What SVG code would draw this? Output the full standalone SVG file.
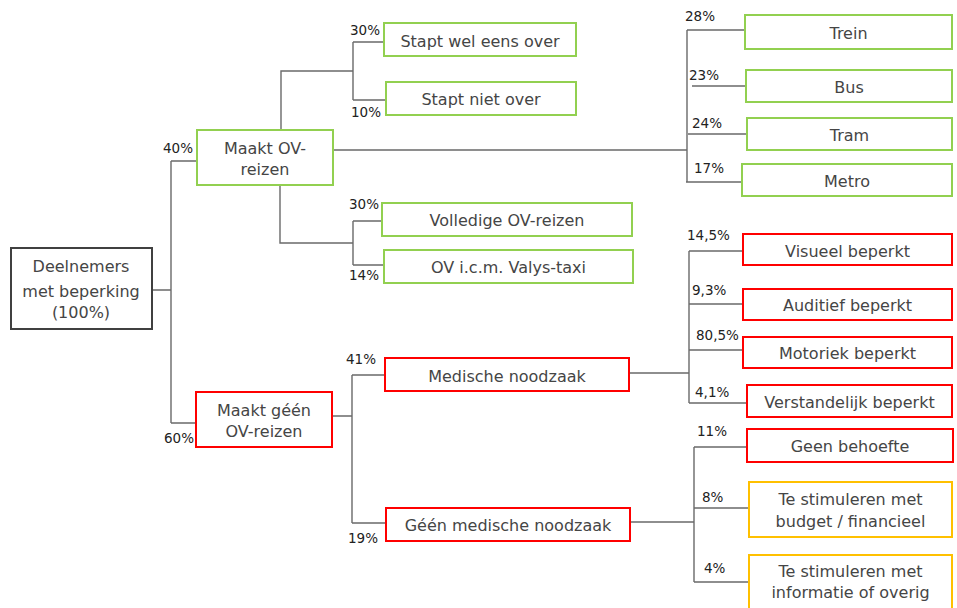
<svg xmlns="http://www.w3.org/2000/svg" width="957" height="608" viewBox="0 0 957 608">
<style>
  .box { fill: #ffffff; stroke-width: 2; }
  .g { stroke: #92d050; }
  .r { stroke: #ff0000; }
  .o { stroke: #ffc000; }
  .k { stroke: #404040; }
  .t { font-family: "DejaVu Sans", "Liberation Sans", sans-serif; font-size: 16px; fill: #454545; text-anchor: middle; }
  .p { font-family: "DejaVu Sans", "Liberation Sans", sans-serif; font-size: 13.5px; fill: #222222; }
  .c { fill: none; stroke: #6a6a6a; stroke-width: 1.4; }
</style>
<rect width="957" height="608" fill="#ffffff"/>

<g id="connectors">
  <path class="c" d="M152 290 H171 M171 161 V423 M171 161 H197 M171 423 H196"/>
  <path class="c" d="M281 130 V71 H353 M353 42 V100 M353 42 H385 M353 100 H386"/>
  <path class="c" d="M333 150 H687 M687 30 V182 M687 30 H745 M692 86 H746 M688 134 H747 M686 182 H742"/>
  <path class="c" d="M280 185 V243 H353 M353 221 V265 M353 221 H382 M353 265 H384"/>
  <path class="c" d="M332 416 H352 M352 375 V523 M352 375 H385 M352 523 H386"/>
  <path class="c" d="M629 373 H689 M689 251 V403 M689 251 H743 M689 304 H743 M689 350 H743 M689 403 H747"/>
  <path class="c" d="M630 522 H694 M694 447 V582 M694 447 H747 M694 508 H749 M694 582 H749"/>
</g>

<g id="labels">
  <text class="p" x="163" y="153">40%</text>
  <text class="p" x="164" y="443">60%</text>
  <text class="p" x="350" y="35">30%</text>
  <text class="p" x="351" y="117">10%</text>
  <text class="p" x="349" y="209">30%</text>
  <text class="p" x="349" y="280">14%</text>
  <text class="p" x="685" y="21">28%</text>
  <text class="p" x="689" y="80">23%</text>
  <text class="p" x="692" y="128">24%</text>
  <text class="p" x="694" y="173">17%</text>
  <text class="p" x="687" y="240">14,5%</text>
  <text class="p" x="692" y="295">9,3%</text>
  <text class="p" x="696" y="340">80,5%</text>
  <text class="p" x="695" y="397">4,1%</text>
  <text class="p" x="697" y="436">11%</text>
  <text class="p" x="702" y="502">8%</text>
  <text class="p" x="704" y="573">4%</text>
  <text class="p" x="346" y="364">41%</text>
  <text class="p" x="348" y="543">19%</text>
</g>

<g id="root">
  <rect class="box k" x="11" y="248" width="141" height="81"/>
  <text class="t" x="81" y="272">Deelnemers</text>
  <text class="t" x="81" y="297">met beperking</text>
  <text class="t" x="81" y="318">(100%)</text>
</g>

<g id="maakt-ov">
  <rect class="box g" x="197" y="130" width="136" height="55"/>
  <text class="t" x="265" y="154">Maakt OV-</text>
  <text class="t" x="265" y="175">reizen</text>
</g>

<g id="stapt-wel">
  <rect class="box g" x="384" y="23" width="192" height="33"/>
  <text class="t" x="480" y="46.5">Stapt wel eens over</text>
</g>
<g id="stapt-niet">
  <rect class="box g" x="386" y="82" width="190" height="33"/>
  <text class="t" x="481" y="105">Stapt niet over</text>
</g>
<g id="volledige">
  <rect class="box g" x="382" y="203" width="250" height="33"/>
  <text class="t" x="507" y="226">Volledige OV-reizen</text>
</g>
<g id="valys">
  <rect class="box g" x="384" y="250" width="249" height="33"/>
  <text class="t" x="508.5" y="273">OV i.c.m. Valys-taxi</text>
</g>

<g id="trein">
  <rect class="box g" x="745" y="15" width="207" height="34"/>
  <text class="t" x="848.5" y="39">Trein</text>
</g>
<g id="bus">
  <rect class="box g" x="746" y="70" width="206" height="32"/>
  <text class="t" x="849" y="93">Bus</text>
</g>
<g id="tram">
  <rect class="box g" x="747" y="118" width="205" height="32"/>
  <text class="t" x="849.5" y="141">Tram</text>
</g>
<g id="metro">
  <rect class="box g" x="742" y="164" width="210" height="32"/>
  <text class="t" x="847" y="186.5">Metro</text>
</g>

<g id="maakt-geen">
  <rect class="box r" x="196" y="392" width="136" height="55"/>
  <text class="t" x="264" y="416">Maakt géén</text>
  <text class="t" x="264" y="437">OV-reizen</text>
</g>
<g id="medische">
  <rect class="box r" x="385" y="358" width="244" height="33"/>
  <text class="t" x="507" y="381.5">Medische noodzaak</text>
</g>
<g id="geen-medische">
  <rect class="box r" x="386" y="508" width="244" height="33"/>
  <text class="t" x="508" y="530.5">Géén medische noodzaak</text>
</g>

<g id="visueel">
  <rect class="box r" x="743" y="234" width="209" height="31"/>
  <text class="t" x="847.5" y="256.5">Visueel beperkt</text>
</g>
<g id="auditief">
  <rect class="box r" x="743" y="289" width="209" height="31"/>
  <text class="t" x="847.5" y="311">Auditief beperkt</text>
</g>
<g id="motoriek">
  <rect class="box r" x="743" y="337" width="209" height="31"/>
  <text class="t" x="847.5" y="359">Motoriek beperkt</text>
</g>
<g id="verstandelijk">
  <rect class="box r" x="747" y="385" width="205" height="32"/>
  <text class="t" x="849.5" y="408">Verstandelijk beperkt</text>
</g>

<g id="geen-behoefte">
  <rect class="box r" x="747" y="429" width="206" height="33"/>
  <text class="t" x="850" y="452">Geen behoefte</text>
</g>
<g id="stim-budget">
  <rect class="box o" x="749" y="482" width="203" height="55"/>
  <text class="t" x="850.5" y="505">Te stimuleren met</text>
  <text class="t" x="850.5" y="526.5">budget / financieel</text>
</g>
<g id="stim-info">
  <rect class="box o" x="749" y="555" width="203" height="62"/>
  <text class="t" x="850.5" y="577">Te stimuleren met</text>
  <text class="t" x="850.5" y="598">informatie of overig</text>
</g>
</svg>
